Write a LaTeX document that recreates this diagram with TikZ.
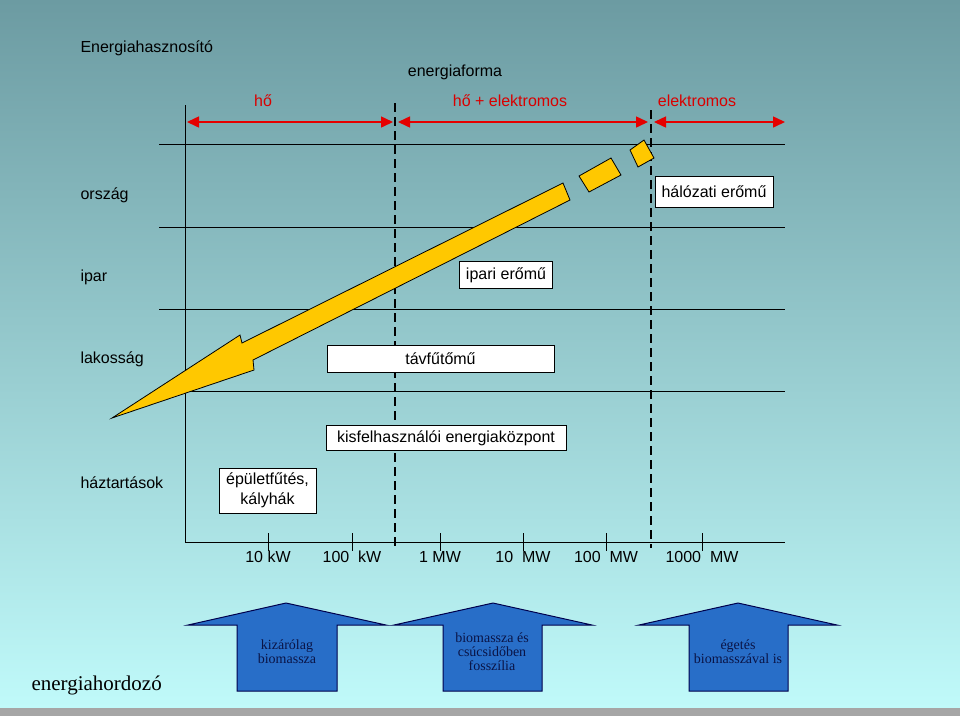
\documentclass[tikz,border=0pt]{standalone}
\usepackage{fontspec}
\usetikzlibrary{arrows.meta}
\setmainfont{Liberation Sans}
\newfontfamily\serifb{Liberation Serif}
\definecolor{yelc}{RGB}{255,200,0}
\definecolor{bluec}{RGB}{40,110,200}
\definecolor{bluet}{RGB}{10,20,70}
\begin{document}
\begin{tikzpicture}[x=1pt,y=-1pt,
  lbl/.style={font=\fontsize{16}{18}\selectfont,text=black},
  redl/.style={font=\fontsize{16}{18}\selectfont,text=red!85!black},
  boxn/.style={draw=black,fill=white,font=\fontsize{16}{18}\selectfont,inner sep=3pt,line width=0.8pt},
  grid/.style={line width=1pt},
  dashv/.style={line width=2.2pt,dash pattern=on 9pt off 5pt},
  redarr/.style={red!90!black,line width=1.5pt,{Triangle[length=12pt,width=11pt]}-{Triangle[length=12pt,width=11pt]}},
  bluearr/.style={draw=black!70!blue,fill=bluec,line width=1pt},
  bl/.style={font=\serifb\fontsize{14}{14}\selectfont,text=bluet,align=center},
  yel/.style={draw=black,fill=yelc,line width=0.8pt}]
\useasboundingbox (0,0) rectangle (960,716);
\shade[top color={rgb,255:red,108;green,155;blue,162},bottom color={rgb,255:red,192;green,250;blue,250}] (0,0) rectangle (960,708);
\fill[gray!70] (0,708) rectangle (960,716);
% grid
\foreach \yy in {144,227,309,391} \draw[grid] (159,\yy) -- (785,\yy);
\draw[grid] (185,105) -- (185,542) -- (785,542);
\draw[dashv] (395,103) -- (395,548);
\draw[dashv] (651,110) -- (651,548);
% ticks
\foreach \xx/\t in {268/10 kW,352/100\ \ kW,440/1 MW,523/10\ \ MW,606/100\ \ MW,702/1000\ \ MW}
  {\draw[line width=1pt] (\xx,533) -- (\xx,551);
   \node[lbl] (t\xx) at (\xx,557) {\t};}
% red arrows
\coordinate (r0) at (187,122); \coordinate (r1) at (393,122);
\coordinate (r2) at (398,122); \coordinate (r3) at (648,122);
\coordinate (r4) at (654,122); \coordinate (r5) at (785,122);
\draw[redarr] (r0) -- (r1);
\draw[redarr] (r2) -- (r3);
\draw[redarr] (r4) -- (r5);
\node[redl] (h1) at (263,101) {hő};
\node[redl] (h2) at (510,101) {hő + elektromos};
\node[redl] (h3) at (697,101) {elektromos};
% titles
\node[lbl,anchor=west] (eh) at (77,48) {Energiahasznosító};
\node[lbl] (ef) at (455,72) {energiaforma};
\node[lbl,anchor=west] (o) at (77,195) {ország};
\node[lbl,anchor=west] (i) at (77,277) {ipar};
\node[lbl,anchor=west] (l) at (77,359) {lakosság};
\node[lbl,anchor=west] (hz) at (77,483) {háztartások};
% yellow arrow
\draw[yel] (563,183) -- (570,200) -- (253,360) -- (254,370) -- (112,418) -- (240,335) -- (242,343) -- cycle;
\draw[yel] (579,176) -- (611,158) -- (621,175) -- (589,192) -- cycle;
\draw[yel] (630,150) -- (644,140) -- (654,158) -- (638,167) -- cycle;
% boxes
\node[boxn,minimum width=118pt,minimum height=31pt] (b1) at (714,192) {hálózati erőmű};
\node[boxn,minimum width=93pt,minimum height=27pt] (b2) at (506,275) {ipari erőmű};
\node[boxn,minimum width=227pt,minimum height=27pt,anchor=north] (b3) at (440.5,345) {távfűtőmű};
\node[boxn,minimum width=240pt,minimum height=25pt] (b4) at (446,438) {kisfelhasználói energiaközpont};
\node[boxn,minimum width=97pt,minimum height=45pt,align=center,font=\fontsize{16}{20}\selectfont] (b5) at (267.5,490.5) {épületfűtés,\\kályhák};
% blue arrows
\foreach \a/\b/\c/\d/\e in {188/237/286/337/386,394/443/493/542/592,639/689/738/788/837}
  \draw[bluearr] (\a,625) -- (\c,603) -- (\e,625) -- (\d,625) -- (\d,691) -- (\b,691) -- (\b,625) -- cycle;
\node[bl] (k1) at (287,652) {kizárólag\\biomassza};
\node[bl] (k2) at (492,652) {biomassza és\\csúcsidőben\\fosszília};
\node[bl] (k3) at (738,652) {égetés\\biomasszával is};
\node[font=\serifb\fontsize{21}{21}\selectfont,anchor=west] (eho) at (28,685) {energiahordozó};
\end{tikzpicture}
\end{document}
